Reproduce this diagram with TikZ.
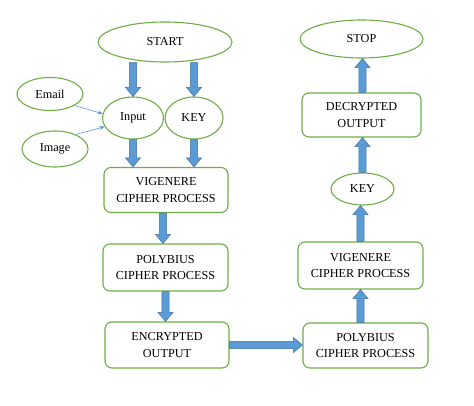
\documentclass[tikz,border=0pt]{standalone}
\usepackage{fontspec}
\setmainfont{Liberation Serif}
\usetikzlibrary{shapes.geometric,calc,arrows.meta}
\definecolor{gbord}{HTML}{70AD47}
\definecolor{bfill}{HTML}{5B9BD5}
\definecolor{bline}{HTML}{41719C}
\tikzset{
  ell/.style={ellipse,draw=gbord,line width=1.1pt,inner sep=0pt,align=center,fill=white},
  rbox/.style={rectangle,rounded corners=7pt,draw=gbord,line width=1.1pt,inner sep=0pt,align=center,fill=white},
  blockarr/.style={fill=bfill,draw=bline,line width=0.5pt,line join=miter},
  thinarr/.style={draw=bfill,line width=0.6pt,-{Stealth[length=5pt,width=4pt]}}
}
\newcommand\downarr[2]{\draw[blockarr] let \p1=(#1), \p2=(#2) in
  (\x1-3.6pt,\y1) -- (\x1-3.6pt,\y2+9pt) -- (\x1-7.5pt,\y2+9pt) -- (\x1,\y2) --
  (\x1+7.5pt,\y2+9pt) -- (\x1+3.6pt,\y2+9pt) -- (\x1+3.6pt,\y1) -- cycle;}
\newcommand\uparr[2]{\draw[blockarr] let \p1=(#1), \p2=(#2) in
  (\x1-3.6pt,\y1) -- (\x1-3.6pt,\y2-9pt) -- (\x1-7.5pt,\y2-9pt) -- (\x1,\y2) --
  (\x1+7.5pt,\y2-9pt) -- (\x1+3.6pt,\y2-9pt) -- (\x1+3.6pt,\y1) -- cycle;}
\newcommand\rightarr[2]{\draw[blockarr] let \p1=(#1), \p2=(#2) in
  (\x1,\y1+3.6pt) -- (\x2-9pt,\y1+3.6pt) -- (\x2-9pt,\y1+7.5pt) -- (\x2,\y1) --
  (\x2-9pt,\y1-7.5pt) -- (\x2-9pt,\y1-3.6pt) -- (\x1,\y1-3.6pt) -- cycle;}
\begin{document}
\begin{tikzpicture}[x=1pt,y=-1pt,font=\fontsize{12.2}{16.5}\selectfont]
\useasboundingbox[fill=white] (0,0) rectangle (474,406);
% left column
\node[ell,minimum width=134pt,minimum height=40pt] (start) at (165,42) {START};
\node[ell,minimum width=66pt,minimum height=33pt] (email) at (50,94) {Email};
\node[ell,minimum width=66pt,minimum height=36pt] (image) at (55,149) {Image};
\node[ell,minimum width=61pt,minimum height=42pt] (input) at (133,118) {Input};
\node[ell,minimum width=58pt,minimum height=42pt] (key) at (194,118) {KEY};
\node[rbox,minimum width=124pt,minimum height=45pt] (vig) at (166,190) {VIGENERE\\CIPHER PROCESS};
\node[rbox,minimum width=125pt,minimum height=47pt] (pol) at (165.5,267.5) {POLYBIUS\\CIPHER PROCESS};
\node[rbox,minimum width=124pt,minimum height=46pt] (enc) at (167,345) {ENCRYPTED\\OUTPUT};
% right column
\node[ell,minimum width=123pt,minimum height=38pt] (stop) at (361.5,39) {STOP};
\node[rbox,minimum width=119pt,minimum height=44pt] (dec) at (361.5,115) {DECRYPTED\\OUTPUT};
\node[ell,minimum width=63pt,minimum height=32pt] (keyr) at (362.5,189) {KEY};
\node[rbox,minimum width=125pt,minimum height=47pt] (vigr) at (360.5,265.5) {VIGENERE\\CIPHER PROCESS};
\node[rbox,minimum width=125pt,minimum height=45pt] (polr) at (365.5,345.5) {POLYBIUS\\CIPHER PROCESS};
% connectors
\downarr{input.north |- start.south}{input.north}
\downarr{key.north |- start.south}{key.north}
\downarr{input.south}{input.south |- vig.north}
\downarr{key.south}{key.south |- vig.north}
\downarr{vig.south -| 163,0}{pol.north -| 163,0}
\downarr{pol.south}{pol.south |- enc.north}
\rightarr{enc.east}{polr.west}
\uparr{vigr.south |- polr.north}{vigr.south}
\uparr{vigr.north}{vigr.north |- keyr.south}
\uparr{keyr.north}{keyr.north |- dec.south}
\uparr{keyr.north |- dec.north}{keyr.north |- stop.south}
\draw[thinarr] (email.-25) -- (input.172);
\draw[thinarr] (image.35) -- (input.197);
\end{tikzpicture}
\end{document}
